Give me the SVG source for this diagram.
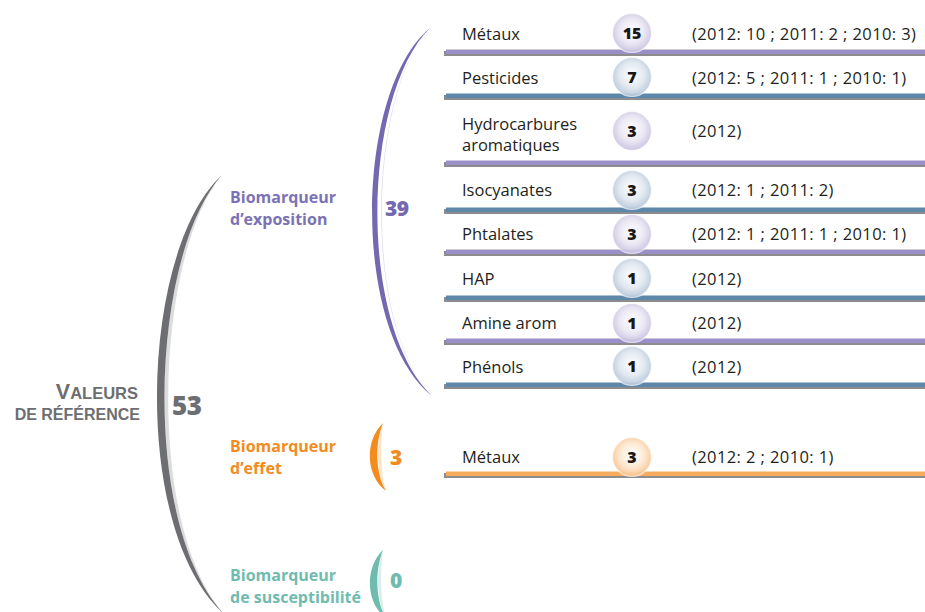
<svg xmlns="http://www.w3.org/2000/svg" width="925" height="612" viewBox="0 0 925 612">
<defs>
<radialGradient id="gP" cx="50%" cy="45%" r="55%">
<stop offset="0" stop-color="#ffffff"/><stop offset="0.55" stop-color="#ebe8f4"/><stop offset="1" stop-color="#c8c0e0"/>
</radialGradient>
<radialGradient id="gB" cx="50%" cy="45%" r="55%">
<stop offset="0" stop-color="#ffffff"/><stop offset="0.55" stop-color="#e3e9f1"/><stop offset="1" stop-color="#b5c6da"/>
</radialGradient>
<radialGradient id="gO" cx="50%" cy="45%" r="55%">
<stop offset="0" stop-color="#ffffff"/><stop offset="0.55" stop-color="#fde9d3"/><stop offset="1" stop-color="#f9c38c"/>
</radialGradient>
<style>
.lbl{font-family:"Open Sans","Liberation Sans",sans-serif;font-size:16.5px;fill:#231f20}
.det{font-family:"Open Sans","Liberation Sans",sans-serif;font-size:16.5px;fill:#231f20;letter-spacing:0.4px}
.num{font-family:"Open Sans","Liberation Sans",sans-serif;font-size:16px;font-weight:800;fill:#1a1718;text-anchor:middle}
.cat{font-family:"Open Sans","Liberation Sans",sans-serif;font-size:16px;font-weight:bold}
.big{font-family:"Open Sans","Liberation Sans",sans-serif;font-weight:800}
.root{font-family:"Liberation Sans",Arial,sans-serif;font-weight:bold;fill:#6d6e71;text-anchor:end}
.shadow{fill:#8c8c8e}
.bp{fill:#9a8fc7}
.bb{fill:#5d88aa}
.bo{fill:#f7ab5e}
.c{stroke:#ffffff;stroke-width:1.2;stroke-opacity:0.7;opacity:0.92}
</style>
</defs>
<rect width="925" height="612" fill="#ffffff"/>

<g id="connectors">
<path d="M222,175 C 150,255 140,525 224,614 C 145,525 155,255 222,175 Z" fill="#dcdcde"/>
<path d="M222,175 C 140,250 130,530 224,614 C 140,525 150,255 222,175 Z" fill="#6d6e71"/>
<path d="M430,28 C 368,95 363,325 432,396 C 362,325 367,95 430,28 Z" fill="#dedaf0"/>
<path d="M430,28 C 355,90 350,330 432,396 C 357,325 362,95 430,28 Z" fill="#7468b0"/>
<path d="M383,423 C 380,443 380,472 386,491 C 376,472 376,443 383,423 Z" fill="#fde3c8"/>
<path d="M383,423 C 365,440 365,475 386,491 C 375,472 375,443 383,423 Z" fill="#f28c1e"/>
<path d="M383,550 C 380,570 380,600 386,618 C 376,600 376,570 383,550 Z" fill="#d7eee9"/>
<path d="M383,550 C 365,567 365,602 386,618 C 375,600 375,570 383,550 Z" fill="#6fbcaf"/>
</g>

<g id="root">
<text x="138" y="399" class="root"><tspan font-size="21.5">V</tspan><tspan font-size="16.5">ALEURS</tspan></text>
<text x="140" y="419.5" class="root" font-size="16">DE RÉFÉRENCE</text>
<text x="172" y="415" class="big" fill="#6d6e71" font-size="26" letter-spacing="-0.5">53</text>
</g>

<g id="cat-exposition">
<text x="230" y="203" class="cat" fill="#7b72b5">Biomarqueur</text>
<text x="230" y="225" class="cat" fill="#7b72b5">d’exposition</text>
<text x="385" y="216" class="big" fill="#7468b0" font-size="21" letter-spacing="-0.5">39</text>
</g>
<g id="cat-effet">
<text x="230" y="452" class="cat" fill="#f28c1e">Biomarqueur</text>
<text x="230" y="474" class="cat" fill="#f28c1e">d’effet</text>
<text x="390" y="465" class="big" fill="#f28c1e" font-size="21">3</text>
</g>
<g id="cat-susceptibilite">
<text x="230" y="581" class="cat" fill="#6fbcaf">Biomarqueur</text>
<text x="230" y="603" class="cat" fill="#6fbcaf">de susceptibilité</text>
<text x="390" y="588" class="big" fill="#6fbcaf" font-size="21">0</text>
</g>

<g id="row-metaux">
<rect x="444" y="51" width="481" height="5" class="shadow"/><rect x="446" y="49.5" width="479" height="4.5" class="bp"/>
<text x="462" y="40" class="lbl">Métaux</text>
<circle cx="632" cy="33" r="19.5" fill="url(#gP)" class="c"/><text x="632" y="39" class="num">15</text>
<text x="692" y="40" class="det">(2012: 10 ; 2011: 2 ; 2010: 3)</text>
</g>
<g id="row-pesticides">
<rect x="444" y="95" width="481" height="5" class="shadow"/><rect x="446" y="93.5" width="479" height="4.5" class="bb"/>
<text x="462" y="84" class="lbl">Pesticides</text>
<circle cx="632" cy="77" r="19.5" fill="url(#gB)" class="c"/><text x="632" y="83" class="num">7</text>
<text x="692" y="84" class="det">(2012: 5 ; 2011: 1 ; 2010: 1)</text>
</g>
<g id="row-hydrocarbures">
<rect x="444" y="162" width="481" height="5" class="shadow"/><rect x="446" y="160.5" width="479" height="4.5" class="bp"/>
<text x="462" y="130" class="lbl">Hydrocarbures</text>
<text x="462" y="151" class="lbl">aromatiques</text>
<circle cx="632" cy="131" r="19.5" fill="url(#gP)" class="c"/><text x="632" y="137" class="num">3</text>
<text x="692" y="137" class="det">(2012)</text>
</g>
<g id="row-isocyanates">
<rect x="444" y="209" width="481" height="5" class="shadow"/><rect x="446" y="207.5" width="479" height="4.5" class="bb"/>
<text x="462" y="196" class="lbl">Isocyanates</text>
<circle cx="632" cy="190" r="19.5" fill="url(#gB)" class="c"/><text x="632" y="196" class="num">3</text>
<text x="692" y="196" class="det">(2012: 1 ; 2011: 2)</text>
</g>
<g id="row-phtalates">
<rect x="444" y="251" width="481" height="5" class="shadow"/><rect x="446" y="249.5" width="479" height="4.5" class="bp"/>
<text x="462" y="240" class="lbl">Phtalates</text>
<circle cx="632" cy="234" r="19.5" fill="url(#gP)" class="c"/><text x="632" y="240" class="num">3</text>
<text x="692" y="240" class="det">(2012: 1 ; 2011: 1 ; 2010: 1)</text>
</g>
<g id="row-hap">
<rect x="444" y="297" width="481" height="5" class="shadow"/><rect x="446" y="295.5" width="479" height="4.5" class="bb"/>
<text x="462" y="285" class="lbl">HAP</text>
<circle cx="632" cy="278" r="19.5" fill="url(#gB)" class="c"/><text x="632" y="284" class="num">1</text>
<text x="692" y="285" class="det">(2012)</text>
</g>
<g id="row-amine">
<rect x="444" y="340" width="481" height="5" class="shadow"/><rect x="446" y="338.5" width="479" height="4.5" class="bp"/>
<text x="462" y="329" class="lbl">Amine arom</text>
<circle cx="632" cy="323" r="19.5" fill="url(#gP)" class="c"/><text x="632" y="329" class="num">1</text>
<text x="692" y="329" class="det">(2012)</text>
</g>
<g id="row-phenols">
<rect x="444" y="384" width="481" height="5" class="shadow"/><rect x="446" y="382.5" width="479" height="4.5" class="bb"/>
<text x="462" y="373" class="lbl">Phénols</text>
<circle cx="632" cy="366" r="19.5" fill="url(#gB)" class="c"/><text x="632" y="372" class="num">1</text>
<text x="692" y="373" class="det">(2012)</text>
</g>
<g id="row-metaux-effet">
<rect x="444" y="473" width="481" height="5" class="shadow"/><rect x="446" y="471.5" width="479" height="4.5" class="bo"/>
<text x="462" y="463" class="lbl">Métaux</text>
<circle cx="632" cy="457" r="19.5" fill="url(#gO)" class="c"/><text x="632" y="463" class="num">3</text>
<text x="692" y="463" class="det">(2012: 2 ; 2010: 1)</text>
</g>
</svg>
